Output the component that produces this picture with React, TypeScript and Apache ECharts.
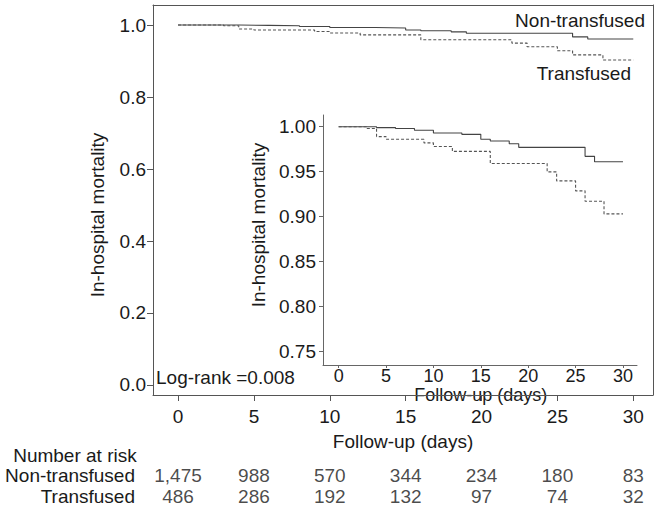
import React, { useEffect, useRef } from "react";
import * as echarts from "echarts";

// Kaplan-Meier estimates
const nonTransDays = [0, 4, 6, 8, 10, 13, 15, 16, 18, 19, 26, 27, 30];
const nonTransSurv = [1.0, 0.999, 0.998, 0.996, 0.993, 0.9915, 0.986, 0.984, 0.981, 0.977, 0.967, 0.961, 0.961];

const transDays = [0, 3, 4, 5, 9, 10, 12, 16, 22, 23, 25, 26, 28, 30];
const transSurv = [1.0, 0.998, 0.989, 0.986, 0.982, 0.978, 0.9725, 0.959, 0.9497, 0.9397, 0.9286, 0.917, 0.903, 0.903];

// axis ticks
const mainXTicks = [0, 5, 10, 15, 20, 25, 30];
const mainYTicks = [0, 0.2, 0.4, 0.6, 0.8, 1.0];
const insetYTicks = [0.75, 0.8, 0.85, 0.9, 0.95, 1.0];

// number at risk table
const riskTimes = [0, 5, 10, 15, 20, 25, 30];
const riskGroups = ["Non-transfused", "Transfused"];
const riskNonTrans = [1475, 988, 570, 344, 234, 180, 83];
const riskTrans = [486, 286, 192, 132, 97, 74, 32];

const FONT = "'Liberation Sans', Arial, Helvetica, sans-serif";
const TEXT = "#1a1a1a";
const AXIS = "#555";
const FS = 19;
const FS_IN = 18;

export default function App() {
  const ref = useRef<HTMLDivElement>(null);

  useEffect(() => {
    if (!ref.current) return;
    const chart = echarts.init(ref.current, undefined, { renderer: "svg" });

    const nonTrans = nonTransDays.map((d, i) => [d, nonTransSurv[i]]);
    const trans = transDays.map((d, i) => [d, transSurv[i]]);

    const riskData: any[] = [];
    riskTimes.forEach((t, i) => {
      riskData.push([t, riskGroups[0], riskNonTrans[i]]);
      riskData.push([t, riskGroups[1], riskTrans[i]]);
    });

    const solid = { color: "#444", width: 1.1, type: "solid" as const };
    const dotted = { color: "#555", width: 1.1, type: [3, 2] as any };
    const frameLine = { show: true, onZero: false, lineStyle: { color: AXIS, width: 1 } };
    const noLabel = { show: false };
    const noTick = { show: false };

    const option: any = {
      animation: false,
      textStyle: { fontFamily: FONT, color: TEXT },
      grid: [
        { left: 153, top: 5, width: 500, height: 390 },
        { left: 323, top: 115, width: 314, height: 250 },
        { left: 153, top: 465.5, width: 500, height: 44.6 },
      ],
      xAxis: [
        {
          gridIndex: 0, type: "value", min: -1.65, max: 31.3, position: "bottom",
          axisLine: frameLine,
          axisTick: { show: true, length: 6, lineStyle: { color: AXIS }, customValues: mainXTicks },
          axisLabel: { fontSize: FS, color: TEXT, fontFamily: FONT, margin: 12, customValues: mainXTicks },
          splitLine: { show: false },
        },
        {
          gridIndex: 1, type: "value", min: -1.65, max: 31.48,
          axisLine: { show: true, onZero: false, lineStyle: { color: "#666", width: 1 } },
          axisTick: { show: true, length: 3, lineStyle: { color: "#666" }, customValues: mainXTicks },
          axisLabel: { fontSize: FS_IN, lineHeight: 14, color: TEXT, fontFamily: FONT, margin: 4, customValues: mainXTicks },
          splitLine: { show: false },
        },
        {
          gridIndex: 2, type: "value", min: -1.65, max: 31.3, show: false,
        },
        {
          gridIndex: 0, type: "value", min: -1.65, max: 31.3, position: "top",
          axisLine: frameLine, axisTick: noTick, axisLabel: noLabel, splitLine: { show: false },
        },
      ],
      yAxis: [
        {
          gridIndex: 0, type: "value", min: -0.0278, max: 1.0556, position: "left",
          axisLine: frameLine,
          axisTick: { show: true, length: 6, lineStyle: { color: AXIS }, customValues: mainYTicks },
          axisLabel: { fontSize: FS, color: TEXT, fontFamily: FONT, margin: 7, customValues: mainYTicks, formatter: (v: number) => v.toFixed(1) },
          splitLine: { show: false },
        },
        {
          gridIndex: 1, type: "value", min: 0.7349, max: 1.013,
          axisLine: { show: true, onZero: false, lineStyle: { color: "#666", width: 1 } },
          axisTick: { show: true, length: 4, lineStyle: { color: "#666" }, customValues: insetYTicks },
          axisLabel: { fontSize: FS, color: TEXT, fontFamily: FONT, margin: 7, customValues: insetYTicks, formatter: (v: number) => v.toFixed(2) },
          splitLine: { show: false },
        },
        {
          gridIndex: 2, type: "category", inverse: true, data: riskGroups,
          axisLine: { show: false }, axisTick: { show: false },
          axisLabel: { fontSize: FS, color: TEXT, fontFamily: FONT, margin: 18, align: "right", interval: 0, lineHeight: 18 },
        },
        {
          gridIndex: 0, type: "value", min: -0.0278, max: 1.0556, position: "right",
          axisLine: frameLine, axisTick: noTick, axisLabel: noLabel, splitLine: { show: false },
        },
      ],
      series: [
        { type: "line", xAxisIndex: 0, yAxisIndex: 0, data: nonTrans, step: "end", showSymbol: false, symbol: "none", lineStyle: solid },
        { type: "line", xAxisIndex: 0, yAxisIndex: 0, data: trans, step: "end", showSymbol: false, symbol: "none", lineStyle: dotted },
        { type: "line", xAxisIndex: 1, yAxisIndex: 1, data: nonTrans, step: "end", showSymbol: false, symbol: "none", lineStyle: solid },
        { type: "line", xAxisIndex: 1, yAxisIndex: 1, data: trans, step: "end", showSymbol: false, symbol: "none", lineStyle: dotted },
        {
          type: "scatter", xAxisIndex: 2, yAxisIndex: 2, data: riskData, symbolSize: 1,
          itemStyle: { color: "rgba(0,0,0,0)" },
          label: {
            show: true, position: "inside", fontSize: FS, lineHeight: 18, color: TEXT, fontFamily: FONT,
            formatter: (p: any) => Number(p.value[2]).toLocaleString("en-US"),
          },
        },
      ],
      graphic: [
        { type: "text", x: 97, y: 215, rotation: Math.PI / 2, style: { text: "In-hospital mortality", font: `${FS}px ${FONT}`, fill: TEXT, textAlign: "center", textVerticalAlign: "middle" } },
        { type: "text", x: 258.3, y: 225, rotation: Math.PI / 2, style: { text: "In-hospital mortality", font: `${FS}px ${FONT}`, fill: TEXT, textAlign: "center", textVerticalAlign: "middle" } },
        { type: "text", x: 645, y: 20, style: { text: "Non-transfused", font: `${FS}px ${FONT}`, fill: TEXT, textAlign: "right", textVerticalAlign: "middle" } },
        { type: "text", x: 631, y: 73, style: { text: "Transfused", font: `${FS}px ${FONT}`, fill: TEXT, textAlign: "right", textVerticalAlign: "middle" } },
        { type: "text", x: 156, y: 377, style: { text: "Log-rank =0.008", font: `${FS}px ${FONT}`, fill: TEXT, textAlign: "left", textVerticalAlign: "middle" } },
        { type: "text", x: 480.7, y: 395, style: { text: "Follow-up (days)", font: `${FS_IN}px ${FONT}`, lineHeight: 15, fill: TEXT, textAlign: "center", textVerticalAlign: "middle" } },
        { type: "text", x: 403, y: 441.7, style: { text: "Follow-up (days)", font: `${FS}px ${FONT}`, fill: TEXT, textAlign: "center", textVerticalAlign: "middle" } },
        { type: "text", x: 136.7, y: 455, style: { text: "Number at risk", font: `${FS}px ${FONT}`, fill: TEXT, textAlign: "right", textVerticalAlign: "middle" } },
      ],
    };

    chart.setOption(option);
    return () => chart.dispose();
  }, []);

  return (
    <div
      ref={ref}
      style={{ position: "fixed", left: 0, top: 0, width: 662, height: 507, background: "#fff" }}
    />
  );
}
